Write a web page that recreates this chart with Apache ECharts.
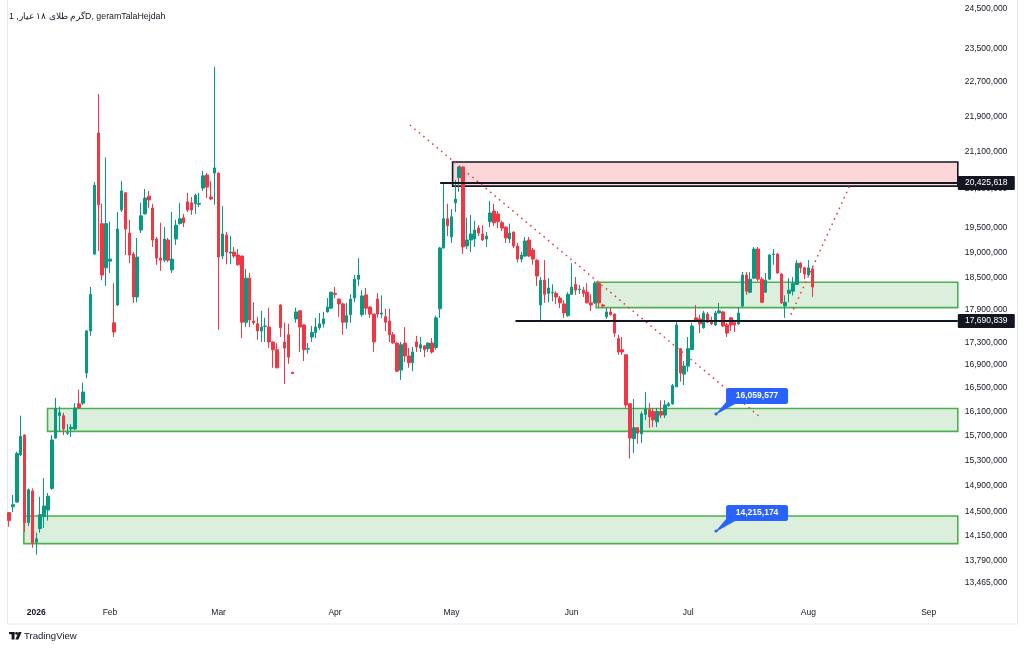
<!DOCTYPE html>
<html><head><meta charset="utf-8">
<script src="https://cdn.jsdelivr.net/npm/echarts@6/dist/echarts.min.js"></script>
<style>html,body{margin:0;padding:0;background:#fff}#c{width:1024px;height:650px}</style>
</head><body><div id="c"></div>
<script>
const title = 'گرم طلای ۱۸ عیار, 1D, geramTalaHejdah';

// daily candles: [open, close, low, high]
const ohlc = [
[14490000,14370000,14280000,14500000],[14580000,14610000,14500000,14760000],[14650000,15410000,14640000,15440000],
[15390000,15690000,15370000,16030000],[15710000,14340000,14200000,15720000],[14340000,14840000,14290000,14860000],
[14820000,14040000,13970000,14860000],[14050000,14100000,13870000,14190000],[14250000,14460000,14190000,14730000],
[14430000,14590000,14260000,15020000],[14530000,14740000,14370000,14790000],[14860000,15630000,14840000,15710000],
[15660000,16150000,15650000,16330000],[16030000,16080000,15760000,16180000],[16030000,15810000,15710000,16080000],
[15740000,15750000,15710000,15890000],[15810000,15840000,15680000,15890000],[15810000,16160000,15790000,16240000],
[16230000,16160000,16150000,16470000],[16240000,16430000,16210000,16590000],[16760000,17510000,16670000,17530000],
[17510000,18190000,17420000,18330000],[18970000,20380000,18950000,20450000],[21520000,19970000,19030000,22410000],
[19580000,18560000,18460000,19990000],[18700000,19580000,18350000,20980000],[18830000,18870000,18600000,19620000],
[17660000,17490000,17400000,18400000],[17990000,19470000,17970000,19820000],[19860000,20260000,19820000,20470000],
[20220000,19470000,18950000,20230000],[19390000,18950000,18790000,19660000],[18970000,18140000,18030000,19010000],
[18140000,18910000,18040000,19290000],[19450000,19740000,19390000,20010000],[19780000,20110000,19770000,20300000],
[20150000,20070000,19900000,20260000],[19900000,19250000,19110000,19990000],[19270000,18890000,18760000,19310000],
[18890000,18850000,18640000,19600000],[18850000,19270000,18810000,19510000],[19250000,18850000,18810000,19290000],
[18660000,18870000,18600000,19820000],[19270000,19550000,19150000,19660000],[19580000,19680000,19560000,20010000],
[19700000,19600000,19510000,19780000],[20030000,19860000,19820000,20220000],[20010000,19860000,19760000,20130000],
[19990000,20170000,19780000,20200000],[19980000,20000000,19920000,20220000],[20320000,20580000,20260000,20690000],
[20600000,20340000,20110000,20640000],[20130000,20090000,20070000,20470000],[20640000,20750000,19970000,23050000],
[20640000,18910000,17530000,20650000],[18930000,19370000,18870000,19940000],[19350000,19010000,18770000,19410000],
[18990000,19010000,18770000,19330000],[19010000,18930000,18890000,19110000],[18950000,18760000,18740000,19070000],
[18930000,17670000,17380000,18940000],[17670000,18500000,17580000,18680000],[18500000,17710000,17580000,18600000],
[17690000,17660000,17620000,18040000],[17640000,17510000,17350000,17770000],[17510000,17580000,17310000,17880000],
[17590000,17600000,17310000,17750000],[17580000,17310000,17200000,17940000],[17310000,17170000,16850000,17320000],
[17170000,16850000,16840000,17290000],[17990000,17570000,17400000,18000000],[17310000,17200000,16570000,17660000],
[17440000,17040000,16920000,17640000],[16770000,16750000,16740000,16780000],[17730000,17860000,17660000,17940000],
[17880000,17580000,17130000,17890000],[17620000,17170000,16970000,17630000],[17180000,17190000,17100000,17290000],
[17400000,17480000,17310000,17600000],[17480000,17580000,17380000,17750000],[17570000,17640000,17530000,17840000],
[17640000,17730000,17570000,17860000],[17860000,17950000,17850000,18120000],[17930000,18230000,17920000,18240000],
[18210000,18190000,18120000,18330000],[18100000,18010000,17770000,18110000],[18010000,17670000,17440000,18030000],
[17670000,17790000,17550000,18030000],[17810000,18100000,17660000,18190000],[18120000,18480000,18040000,18560000],
[18480000,18560000,18350000,18890000],[17810000,18160000,17770000,18270000],[18180000,17930000,17810000,18310000],
[17950000,17820000,17750000,17970000],[17820000,17310000,17130000,17830000],[18100000,17820000,17750000,18210000],
[17820000,17840000,17750000,18170000],[17770000,17670000,17510000,17920000],[17690000,17440000,17310000,17920000],
[17440000,17290000,17280000,17490000],[17290000,16790000,16780000,17300000],[16810000,17260000,16640000,17310000],
[17290000,17060000,16950000,17580000],[17060000,16940000,16850000,17200000],[16940000,17130000,16790000,17220000],
[17310000,17220000,17130000,17420000],[17200000,17260000,17130000,17400000],[17240000,17170000,17040000,17250000],
[17190000,17290000,17130000,17300000],[17290000,17130000,17100000,17380000],[17210000,17750000,17170000,17790000],
[17920000,19090000,17750000,19110000],[19090000,19680000,19080000,20430000],[19680000,19540000,19330000,19990000],
[19310000,19720000,19190000,19880000],[20010000,20090000,19820000,20490000],[20540000,20770000,20240000,20790000],
[20770000,19110000,18970000,20780000],[19130000,19250000,19070000,19700000],[19250000,19370000,19010000,19760000],
[19270000,19450000,19110000,19640000],[19490000,19390000,19330000,19550000],[19370000,19250000,19230000,19550000],
[19270000,19330000,19110000,19410000],[19620000,19800000,19510000,20050000],[19840000,19600000,19530000,19990000],
[19780000,19620000,19490000,19840000],[19600000,19490000,19430000,19640000],[19510000,19290000,19190000,19520000],
[19270000,19390000,19190000,19580000],[19410000,19130000,19090000,19420000],[19130000,18870000,18810000,19190000],
[18870000,18950000,18810000,19010000],[18930000,19230000,18910000,19310000],[19250000,18930000,18910000,19310000],
[19050000,18870000,18760000,19090000],[18850000,18540000,18350000,18870000],[17990000,18460000,17670000,18520000],
[18460000,18190000,18030000,18850000],[18210000,18310000,18040000,18500000],[18220000,18230000,18060000,18380000],
[18210000,18140000,18010000,18250000],[18120000,18030000,17930000,18160000],[18010000,17840000,17750000,18080000],
[17790000,18190000,17770000,18230000],[18190000,18330000,18180000,18790000],[18380000,18270000,18180000,18520000],
[18280000,18290000,18200000,18370000],[18270000,18210000,18140000,18330000],[18230000,18030000,18020000,18400000],
[18030000,17990000,17880000,18190000],[18030000,18400000,18010000,18440000],[18400000,18030000,17950000,18420000],
[17990000,17970000,17930000,18010000],[17770000,17860000,17730000,17940000],[17860000,17810000,17790000,17940000],
[17820000,17470000,17400000,17830000],[17370000,17130000,17080000,17440000],[17170000,17130000,17080000,17400000],
[17080000,16210000,16160000,17090000],[16230000,15660000,15330000,16240000],[15650000,15830000,15420000,16310000],
[15830000,15740000,15570000,15840000],[15730000,16060000,15580000,16100000],[16050000,16140000,15960000,16430000],
[16130000,16010000,15830000,16240000],[16100000,15960000,15840000,16160000],[15930000,16100000,15840000,16160000],
[16100000,16040000,15990000,16290000],[16040000,16210000,15990000,16290000],[16200000,16230000,16180000,16260000],
[16230000,16540000,16210000,16570000],[16520000,17620000,16520000,17710000],[17190000,16760000,16610000,17200000],
[16740000,16880000,16550000,16970000],[16880000,17190000,16780000,17400000],[17170000,17600000,17170000,17660000],
[17750000,17710000,17670000,17990000],[17730000,17640000,17470000,17810000],[17570000,17840000,17550000,17880000],
[17820000,17670000,17660000,17860000],[17690000,17640000,17620000,17770000],[17620000,17840000,17600000,17880000],
[17840000,17880000,17830000,18030000],[17860000,17600000,17580000,17880000],[17620000,17470000,17400000,17660000],
[17750000,17620000,17510000,17760000],[17660000,17620000,17490000,17690000],[17640000,17840000,17620000,17950000],
[17970000,18560000,17950000,18620000],[18560000,18250000,18180000,18620000],[18230000,18480000,18210000,18620000],
[18500000,19070000,18480000,19110000],[19070000,18480000,18440000,19110000],[18480000,18040000,18030000,18520000],
[18230000,18460000,18230000,18600000],[18480000,18950000,18460000,18970000],[18960000,18970000,18760000,19070000],
[18970000,18600000,18580000,18990000],[18580000,18030000,18010000,18590000],[17970000,18040000,17750000,18170000],
[18210000,18270000,18040000,18500000],[18250000,18400000,18170000,18520000],[18380000,18790000,18370000,18850000],
[18790000,18700000,18600000,18810000],[18700000,18580000,18480000,18720000],[18560000,18700000,18540000,18850000],
[18680000,18330000,18140000,18720000]
];

const barSlots = 245;                       // bars shown incl. empty future space
const timeLabels = ['2026','Feb','Mar','Apr','May','Jun','Jul','Aug','Sep'];
const timeLabelBars = [7,26,54,84,114,145,175,206,237];
const priceTicks = [24500000,23500000,22700000,21900000,21100000,20300000,19500000,19000000,18500000,17900000,
  17300000,16900000,16500000,16100000,15700000,15300000,14900000,14500000,14150000,13790000,13465000];
const priceMin = 13257000, priceMax = 24718000;

// drawings (bar index, price)
const zones = [
  {start:114.3, hi:20880000, lo:20360000, kind:'supply'},
  {start:151.3, hi:18420000, lo:17940000, kind:'demand'},
  {start:9.9,   hi:16150000, lo:15770000, kind:'demand'},
  {start:3.8,   hi:14440000, lo:14030000, kind:'demand'}
];
const levels = [{start:111.1, price:20425618},{start:130.5, price:17690839}];
const downTrend = [[103.3, 21700000],[193.5, 16010000]];
const upTrend = [[201.5, 17810000],[216.7, 20380000]];
const callouts = [{bar:182.2, price:16059577},{bar:182.2, price:14215174}];

const fmt = n => String(n).replace(/\B(?=(\d{3})+(?!\d))/g, ',');
const FONT = '"Liberation Sans", Arial, sans-serif';
const GREEN = '#089981', RED = '#f23645';

const chart = echarts.init(document.getElementById('c'), null, {renderer:'canvas'});
const cats = Array.from({length: barSlots}, (_, i) => String(i));

chart.setOption({
  animation:false,
  backgroundColor:'#ffffff',
  grid:{left:7.16, right:66.2, top:0, bottom:52, containLabel:false},
  xAxis:[{
    type:'category', data:cats, boundaryGap:true,
    axisLine:{show:false}, axisTick:{show:false}, splitLine:{show:false},
    axisLabel:{
      interval:(idx) => timeLabelBars.indexOf(idx) >= 0,
      formatter:(v, idx) => { const k = timeLabelBars.indexOf(idx); if (k < 0) return ''; return k === 0 ? '{y|' + timeLabels[k] + '}' : timeLabels[k]; },
      color:'#131722', fontSize:8.5, fontFamily:FONT, margin:10,
      rich:{y:{fontWeight:'bold', fontSize:8.5, fontFamily:FONT, color:'#131722'}}
    }
  },{
    type:'value', min:-0.5, max:barSlots-0.5, show:false
  }],
  yAxis:{
    type:'value', position:'right', min:Math.log(priceMin), max:Math.log(priceMax),
    axisLine:{show:false}, axisTick:{show:false}, splitLine:{show:false},
    axisLabel:{
      customValues: priceTicks.map(Math.log),
      formatter:(v) => fmt(Math.round(Math.exp(v))),
      color:'#131722', fontSize:8.5, fontFamily:FONT, margin:7, align:'left'
    }
  },
  graphic:[
    {type:'rect', shape:{x:7.5, y:-2, width:1010, height:626}, style:{fill:null, stroke:'#e6e8ee', lineWidth:1}, silent:true, z:-1},
    {type:'text', x:9, y:12, style:{text:title, font:'8.8px ' + FONT, fill:'#131722'}, z:10},
    {type:'group', x:9, y:632, z:10, children:[
      {type:'rect', shape:{x:0, y:0, width:5.5, height:2.2}, style:{fill:'#131722'}},
      {type:'rect', shape:{x:2.6, y:0, width:2.9, height:7.5}, style:{fill:'#131722'}},
      {type:'circle', shape:{cx:7.6, cy:1.4, r:1.4}, style:{fill:'#131722'}},
      {type:'polygon', shape:{points:[[9.6,0],[12.6,0],[9.4,7.5],[6.4,7.5]]}, style:{fill:'#131722'}}
    ]},
    {type:'text', x:24, y:631, style:{text:'TradingView', font:'9.6px ' + FONT, fill:'#131722'}, z:10}
  ],
  series:[
    {
      type:'custom', name:'zones', xAxisIndex:1, yAxisIndex:0, z:1, silent:true,
      data: zones.map(z => [z.start, Math.log(z.hi), Math.log(z.lo)]),
      renderItem:(params, api) => {
        const z = zones[params.dataIndex];
        const p0 = api.coord([api.value(0), api.value(1)]);
        const p1 = api.coord([barSlots - 0.5, api.value(2)]);
        const style = z.kind === 'supply'
          ? {fill:'rgba(242,54,69,0.2)', stroke:'#131722', lineWidth:1.6}
          : {fill:'rgba(76,175,80,0.2)', stroke:'#4caf50', lineWidth:1.6};
        return {type:'rect', shape:{x:p0[0], y:p0[1], width:p1[0]-p0[0], height:p1[1]-p0[1]}, style};
      }
    },
    {
      type:'candlestick', xAxisIndex:0, yAxisIndex:0, z:3, barWidth:3,
      data: ohlc.map(r => r.map(Math.log)),
      itemStyle:{color:GREEN, color0:RED, borderColor:GREEN, borderColor0:RED, borderWidth:1}
    },
    {
      type:'line', xAxisIndex:1, yAxisIndex:0, z:4, symbol:'none', silent:true,
      data: downTrend.map(p => [p[0], Math.log(p[1])]),
      lineStyle:{color:RED, width:1.5, type:[1.6,4.2]}
    },
    {
      type:'line', xAxisIndex:1, yAxisIndex:0, z:4, symbol:'none', silent:true,
      data: upTrend.map(p => [p[0], Math.log(p[1])]),
      lineStyle:{color:RED, width:1.5, type:[1.6,4.2]}
    },
    {
      type:'custom', name:'levels', xAxisIndex:1, yAxisIndex:0, z:6, clip:false, silent:true,
      data: levels.map(l => [l.start, Math.log(l.price)]),
      renderItem:(params, api) => {
        const l = levels[params.dataIndex];
        const p0 = api.coord([api.value(0), api.value(1)]);
        const p1 = api.coord([barSlots - 0.5, api.value(1)]);
        return {type:'group', children:[
          {type:'line', shape:{x1:p0[0], y1:p0[1], x2:p1[0], y2:p1[1]}, style:{stroke:'#131722', lineWidth:2}},
          {type:'rect', shape:{x:p1[0], y:p1[1]-7, width:57, height:14, r:1}, style:{fill:'#131722'}},
          {type:'text', x:p1[0]+28.5, y:p1[1], style:{text:fmt(l.price), fill:'#ffffff', font:'8.5px ' + FONT, align:'center', verticalAlign:'middle'}}
        ]};
      }
    },
    {
      type:'custom', name:'callouts', xAxisIndex:1, yAxisIndex:0, z:7, clip:false, silent:true,
      data: callouts.map(c => [c.bar, Math.log(c.price)]),
      renderItem:(params, api) => {
        const c = callouts[params.dataIndex];
        const p = api.coord([api.value(0), api.value(1)]);
        const bx = p[0] + 10, bb = p[1] - 10, bw = 62, bh = 16;
        return {type:'group', children:[
          {type:'polygon', shape:{points:[[p[0]-0.8, p[1]+0.8],[bx, bb-2],[bx+9, bb],[p[0]+0.8, p[1]+0.2]]}, style:{fill:'#2962ff'}},
          {type:'circle', shape:{cx:p[0], cy:p[1], r:1.6}, style:{fill:'#2962ff'}},
          {type:'rect', shape:{x:bx, y:bb-bh, width:bw, height:bh, r:2.5}, style:{fill:'#2962ff'}},
          {type:'text', x:bx+bw/2, y:bb-bh/2, style:{text:fmt(c.price), fill:'#ffffff', font:'bold 8.5px ' + FONT, align:'center', verticalAlign:'middle'}}
        ]};
      }
    }
  ]
});
</script></body></html>
